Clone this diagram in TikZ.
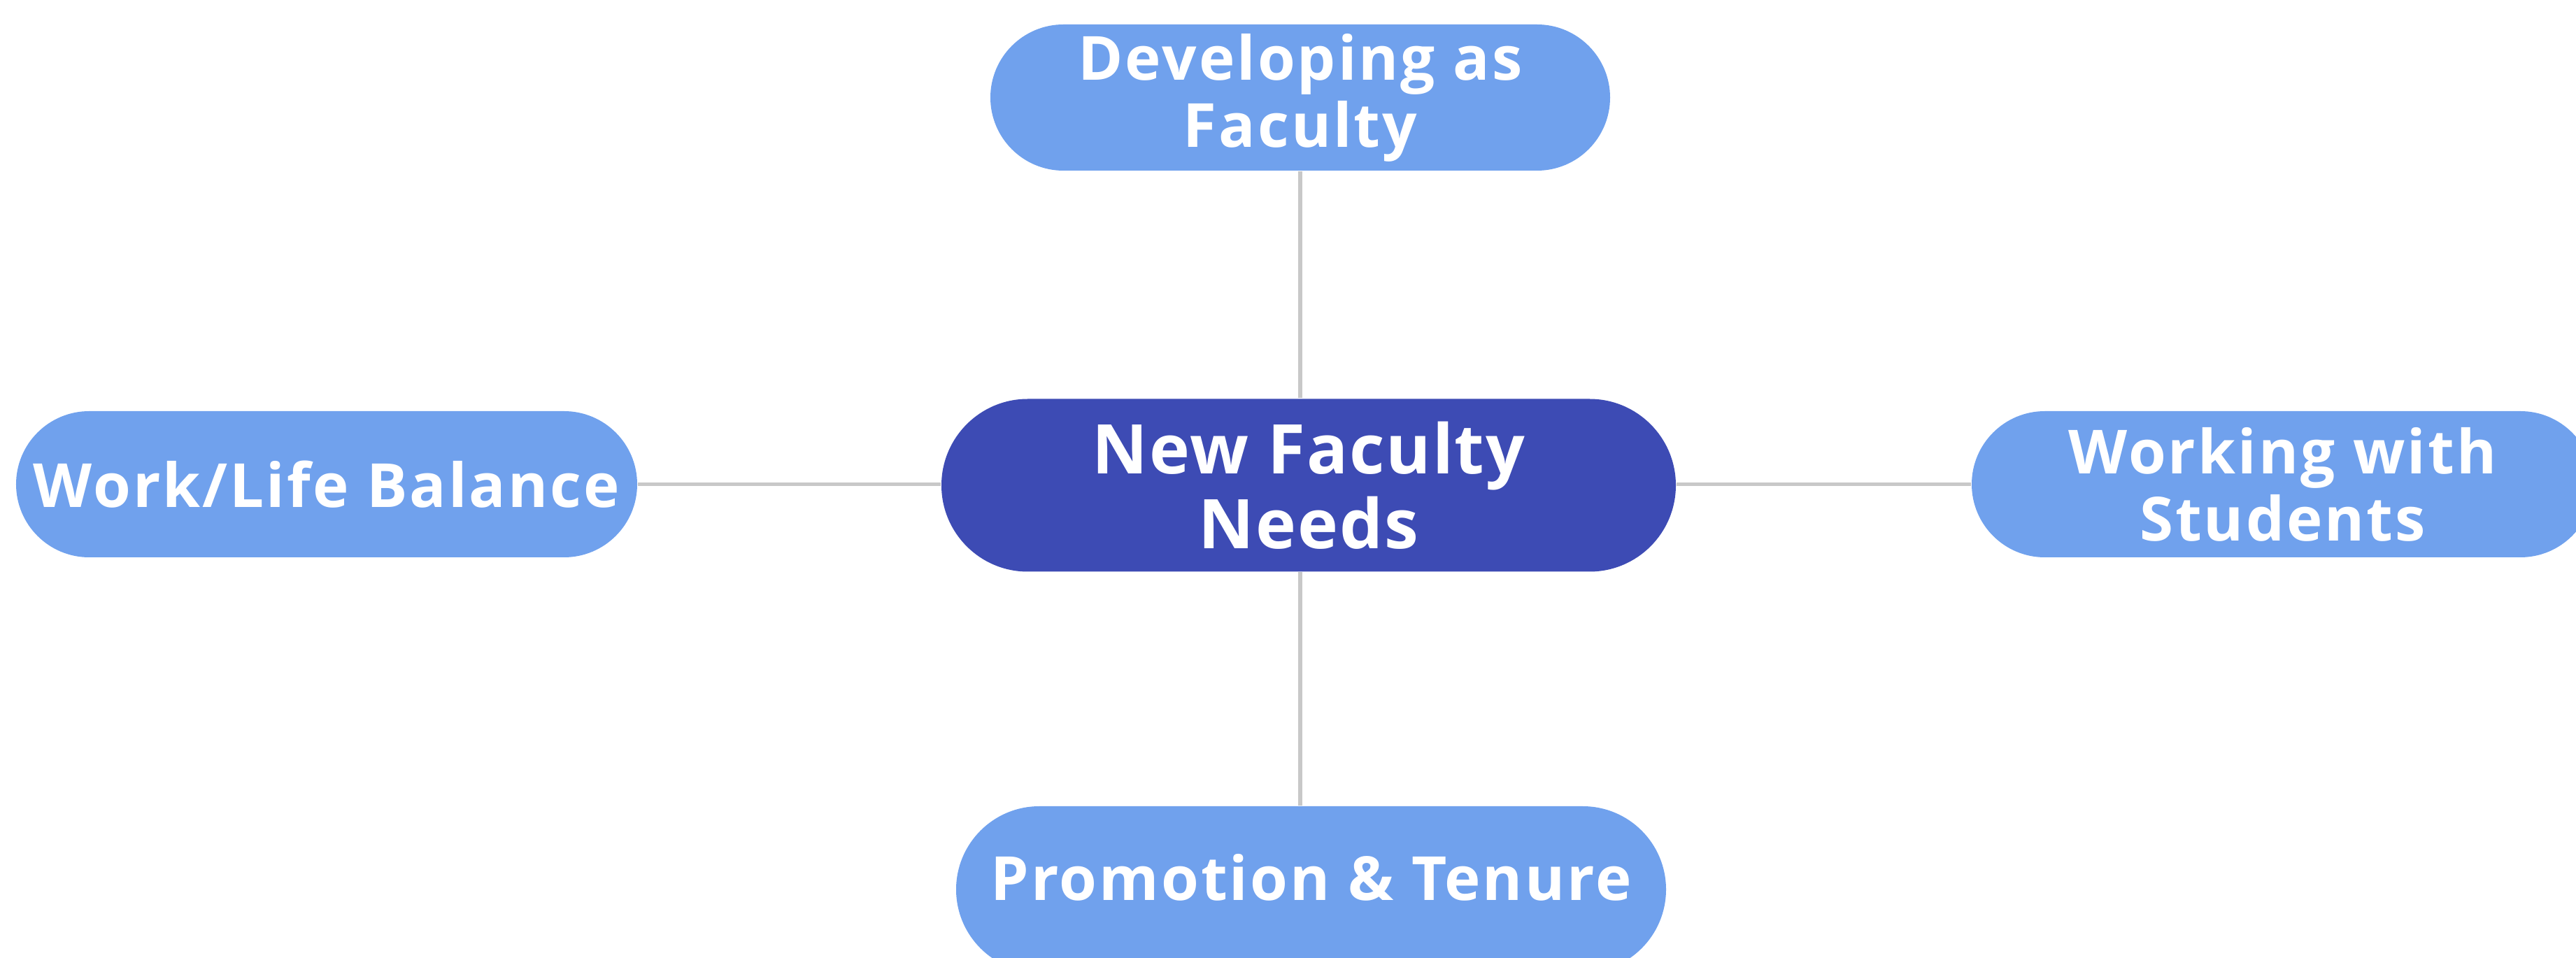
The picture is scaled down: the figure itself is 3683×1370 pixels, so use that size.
\documentclass[tikz,border=0pt]{standalone}
\usepackage{fontspec}
\setmainfont{Open Sans}
\definecolor{leafblue}{HTML}{70A1ED}
\definecolor{hubblue}{HTML}{3D4BB4}
\definecolor{linkgray}{HTML}{C8C8C8}
\newfontfamily\diafont{Open Sans}[LetterSpace=3.5]
\newfontfamily\hubfont{Open Sans}[LetterSpace=2]
\tikzset{
  leaf/.style={fill=leafblue, draw=none, inner sep=0pt, text=white, align=center,
    minimum height=41.8pt, rounded corners=20.9pt,
    font=\diafont\bfseries\fontsize{17.4pt}{19.2pt}\selectfont},
  hub/.style={fill=hubblue, draw=none, inner sep=0pt, text=white, align=center,
    minimum height=49.4pt, rounded corners=24.7pt,
    font=\hubfont\bfseries\fontsize{19.6pt}{21.4pt}\selectfont},
  link/.style={draw=linkgray, line width=1.1pt},
}
\begin{document}
\begin{tikzpicture}[x=0.2pt,y=-0.2pt]
\useasboundingbox (0,0) rectangle (3683,1370);
\node[leaf, minimum width=177.2pt] (top) at (1859,139.5) {\raisebox{-0.8pt}[\height][\depth]{\begin{tabular}{@{}c@{}}Developing as\\Faculty\end{tabular}}};
\node[hub, minimum width=210pt] (hub) at (1871,694) {New Faculty\\Needs};
\node[leaf, minimum width=177.6pt] (left) at (467,692.5) {Work/Life Balance};
\node[leaf, minimum width=177.8pt] (right) at (3263.5,692.5) {Working with\\Students};
\node[leaf, minimum width=203pt, minimum height=47.6pt, rounded corners=23.8pt] (bottom) at (1874.5,1272) {\raisebox{3.4pt}[\height][\depth]{Promotion \& Tenure}};
\draw[link] (top.south) -- (top.south |- hub.north);
\draw[link] (hub.south -| top.south) -- (bottom.north -| top.south);
\draw[link] (left.east) -- (left.east -| hub.west);
\draw[link] (right.west) -- (right.west -| hub.east);
\end{tikzpicture}
\end{document}
